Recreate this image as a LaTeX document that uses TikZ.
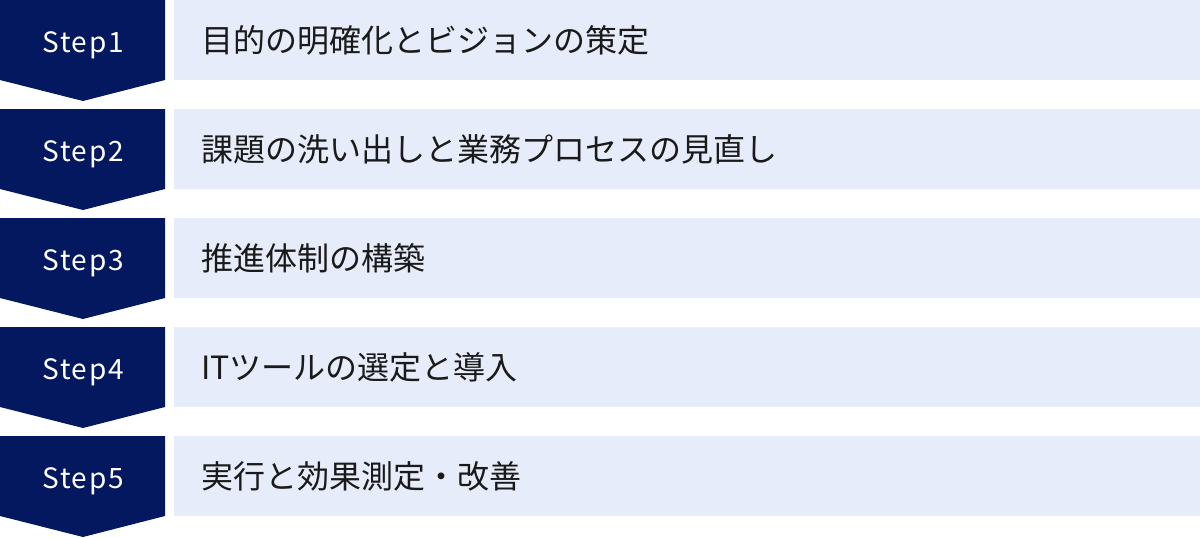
\documentclass[tikz,border=0pt]{standalone}
\usepackage{fontspec}
\setmainfont{Noto Sans}
\newfontfamily\jpfont{Noto Sans CJK JP}
\newfontfamily\stepfont[LetterSpace=6]{Noto Sans CJK JP}
\definecolor{navy}{HTML}{041860}
\definecolor{paleblue}{HTML}{E6ECF9}
\definecolor{ink}{HTML}{1A1A1A}
\begin{document}
\begin{tikzpicture}[x=1pt,y=-1pt,
    steparrow/.style={fill=navy},
    stepbar/.style={fill=paleblue},
    steplabel/.style={anchor=base,text=white,inner sep=0pt,font=\stepfont\fontsize{28}{28}\selectfont},
    stepitem/.style={anchor=west,inner sep=0pt,text=ink,font=\jpfont\fontsize{32}{32}\selectfont}]
        \useasboundingbox (0,0) rectangle (1200,538);
        % step 1
        \fill[steparrow] (0,0) -- (165,0) -- (165,80) -- (83,101) -- (0,80) -- cycle;
        \fill[stepbar] (174,0) rectangle (1200,80);
        \node[steplabel] (s1) at (83,52) {Step1};
        \node[stepitem] (t1) at (201,40) {目的の明確化とビジョンの策定};
        % step 2
        \fill[steparrow] (0,109) -- (165,109) -- (165,189) -- (83,210) -- (0,189) -- cycle;
        \fill[stepbar] (174,109) rectangle (1200,189);
        \node[steplabel] (s2) at (83,161) {Step2};
        \node[stepitem] (t2) at (201,149) {課題の洗い出しと業務プロセスの見直し};
        % step 3
        \fill[steparrow] (0,218) -- (165,218) -- (165,298) -- (83,319) -- (0,298) -- cycle;
        \fill[stepbar] (174,218) rectangle (1200,298);
        \node[steplabel] (s3) at (83,270) {Step3};
        \node[stepitem] (t3) at (201,258) {推進体制の構築};
        % step 4
        \fill[steparrow] (0,327) -- (165,327) -- (165,407) -- (83,428) -- (0,407) -- cycle;
        \fill[stepbar] (174,327) rectangle (1200,407);
        \node[steplabel] (s4) at (83,379) {Step4};
        \node[stepitem] (t4) at (201,367) {ITツールの選定と導入};
        % step 5
        \fill[steparrow] (0,436) -- (165,436) -- (165,516) -- (83,537) -- (0,516) -- cycle;
        \fill[stepbar] (174,436) rectangle (1200,516);
        \node[steplabel] (s5) at (83,488) {Step5};
        \node[stepitem] (t5) at (201,476) {実行と効果測定・改善};
\end{tikzpicture}
\end{document}
